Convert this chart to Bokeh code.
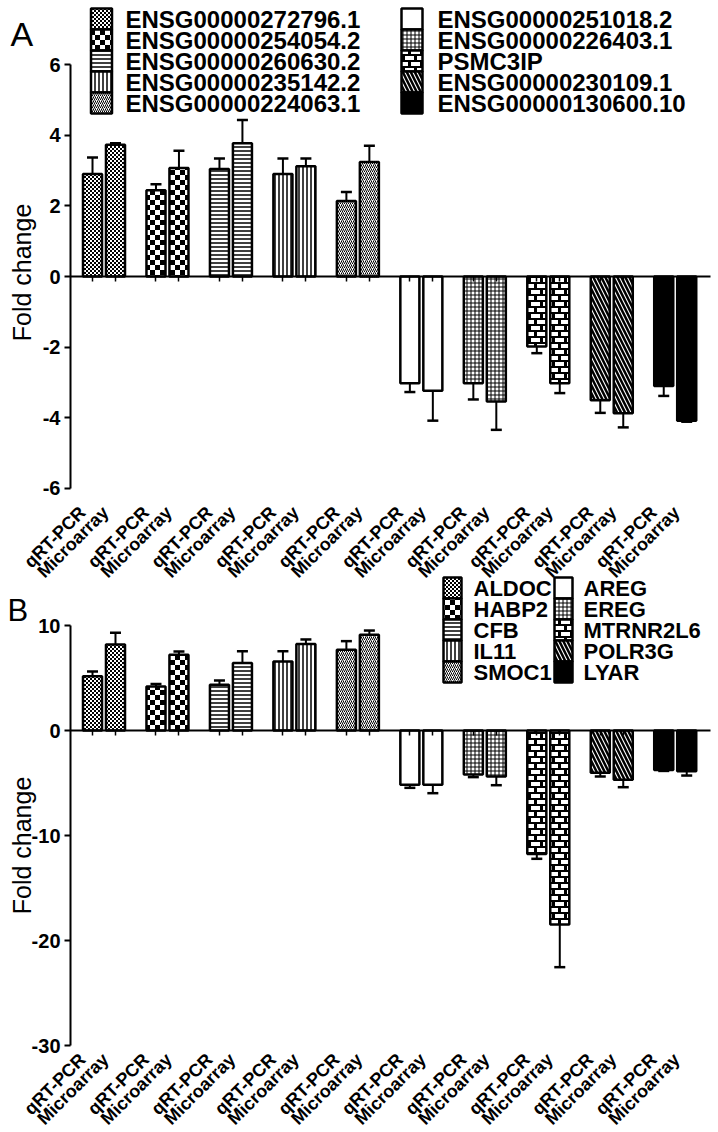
import zlib
import struct
import base64
import numpy as np
from math import pi
from bokeh.plotting import figure
from bokeh.models import Range1d, FixedTicker, LinearAxis, ImageURLTexture
from bokeh.core.properties import value
from bokeh.embed import file_html
from bokeh.resources import INLINE

# ---------------- data ----------------
tick_labels = ["qRT-PCR", "Microarray"]

genes_a = ["ENSG00000272796.1", "ENSG00000254054.2", "ENSG00000260630.2",
           "ENSG00000235142.2", "ENSG00000224063.1", "ENSG00000251018.2",
           "ENSG00000226403.1", "PSMC3IP", "ENSG00000230109.1", "ENSG00000130600.10"]
qpcr_a = [2.90, 2.44, 3.04, 2.90, 2.14, -3.02, -3.02, -1.98, -3.50, -3.10]
qpcr_a_err = [0.47, 0.17, 0.30, 0.44, 0.25, 0.25, 0.46, 0.19, 0.36, 0.28]
micro_a = [3.73, 3.07, 3.77, 3.12, 3.24, -3.23, -3.54, -3.02, -3.87, -4.08]
micro_a_err = [0.04, 0.49, 0.66, 0.22, 0.46, 0.85, 0.80, 0.28, 0.40, 0.03]

genes_b = ["ALDOC", "HABP2", "CFB", "IL11", "SMOC1",
           "AREG", "EREG", "MTRNR2L6", "POLR3G", "LYAR"]
qpcr_b = [5.17, 4.19, 4.35, 6.57, 7.68, -5.17, -4.19, -11.75, -4.03, -3.75]
qpcr_b_err = [0.45, 0.25, 0.41, 0.98, 0.83, 0.29, 0.25, 0.47, 0.35, 0.10]
micro_b = [8.19, 7.21, 6.44, 8.25, 9.11, -5.17, -4.38, -18.48, -4.70, -3.87]
micro_b_err = [1.11, 0.31, 1.11, 0.42, 0.41, 0.80, 0.83, 4.06, 0.70, 0.42]

yticks_a = [-6, -4, -2, 0, 2, 4, 6]
yticks_b = [-30, -20, -10, 0, 10]

# ---------------- styles ----------------
FONT = "Liberation Sans"
OFF = 0.181
BAR_W = 0.30
W, H = 718, 1132


def png_url(n, is_black):
    """Tiny grayscale PNG tile (n x n) as a data URL."""
    raw = b"".join(b"\x00" + bytes(0 if is_black(x, y) else 255 for x in range(n))
                   for y in range(n))

    def chunk(t, d):
        return (struct.pack(">I", len(d)) + t + d +
                struct.pack(">I", zlib.crc32(t + d) & 0xffffffff))

    png = (b"\x89PNG\r\n\x1a\n" +
           chunk(b"IHDR", struct.pack(">IIBBBBB", n, n, 8, 0, 0, 0, 0)) +
           chunk(b"IDAT", zlib.compress(raw)) + chunk(b"IEND", b""))
    return "data:image/png;base64," + base64.b64encode(png).decode()


def brick_px(x, y):
    row = (y // 6) % 2
    yy = y % 6
    if yy < 2:
        return True
    xx = (x + (6 if row else 0)) % 12
    return xx < 3


fine_checker = ImageURLTexture(url=png_url(4, lambda x, y: ((x // 2) + (y // 2)) % 2 == 0))
coarse_checker = ImageURLTexture(url=png_url(10, lambda x, y: ((x // 5) + (y // 5)) % 2 == 0))
bricks = ImageURLTexture(url=png_url(12, brick_px))

styles = [
    dict(fill_color="white", hatch_pattern=value("fchk"), hatch_extra={"fchk": fine_checker}),
    dict(fill_color="white", hatch_pattern=value("cchk"), hatch_extra={"cchk": coarse_checker}),
    dict(fill_color="white", hatch_pattern="horizontal_line", hatch_scale=4, hatch_weight=1.5),
    dict(fill_color="white", hatch_pattern="vertical_line", hatch_scale=4, hatch_weight=1.5),
    dict(fill_color="white", hatch_pattern="right_diagonal_line", hatch_scale=4, hatch_weight=1),
    dict(fill_color="white"),
    dict(fill_color="white", hatch_pattern="cross", hatch_scale=4, hatch_weight=1),
    dict(fill_color="white", hatch_pattern=value("brick"), hatch_extra={"brick": bricks}),
    dict(fill_color="white", hatch_pattern="left_diagonal_line", hatch_scale=8, hatch_weight=2.5),
    dict(fill_color="black"),
]

# page-pixel -> data helpers (layout only)
XC, XS = 103.5, 63.47


def xd(X):
    return (X - XC) / XS


def ymap(y0px, scale):
    return lambda Y: (y0px - Y) / scale


yA = ymap(276, 35.333)   # panel A: 0 at 276 px, 35.333 px per unit
yB = ymap(730, 10.5)     # panel B: 0 at 730 px, 10.5 px per unit

p = figure(width=W, height=H, output_backend="svg", toolbar_location=None,
           x_range=Range1d(xd(0), xd(W)), y_range=Range1d(yA(H), yA(0)),
           x_axis_location=None, y_axis_location=None, min_border=0)
p.extra_y_ranges = {"b": Range1d(yB(H), yB(0))}
p.outline_line_color = None
p.xgrid.visible = False
p.ygrid.visible = False


def draw_panel(rn, yd, genes, qpcr, qerr, micro, merr, yticks, letter, letter_px,
               letter_size, ylabel_px, leg_font, leg_cols, leg_rows_top, leg_rect_w,
               label_standoff):
    xs, vals, errs = [], [], []
    for i in range(len(genes)):
        bx = [float(i - OFF), float(i + OFF)]
        bv = [qpcr[i], micro[i]]
        p.vbar(x=bx, top=bv, bottom=0, width=BAR_W, line_color="black",
               line_width=2.5, y_range_name=rn, **styles[i])
        xs += bx
        vals += bv
        errs += [qerr[i], merr[i]]

    xs = np.array(xs)
    vals = np.array(vals)
    ends = vals + np.sign(vals) * np.array(errs)

    p.segment(x0=xs, y0=vals, x1=xs, y1=ends, line_color="black", line_width=2,
              y_range_name=rn)
    p.scatter(x=xs, y=ends, marker="dash", size=11, line_color="black", line_width=2.5,
              y_range_name=rn)

    # y axis
    yax = LinearAxis(y_range_name=rn, fixed_location=xd(70), ticker=FixedTicker(ticks=yticks),
                     bounds=(yticks[0], yticks[-1]), axis_line_width=2,
                     major_tick_line_width=2, major_tick_out=6, major_tick_in=0,
                     minor_tick_line_color=None, major_label_text_font=FONT,
                     major_label_text_font_style="bold", major_label_text_font_size="20px",
                     major_label_text_color="black", major_label_standoff=4,
                     major_label_overrides={t: str(t) for t in yticks})
    p.add_layout(yax, "left")

    # zero line with small ticks under each bar
    zax = LinearAxis(y_range_name=rn, fixed_location=0,
                     ticker=FixedTicker(ticks=[float(v) for v in xs]),
                     bounds=(xd(70), xd(710)), axis_line_width=2,
                     major_tick_line_width=1.5, major_tick_out=5, major_tick_in=0,
                     minor_tick_line_color=None, major_label_text_color=None,
                     major_label_text_font_size="1px")
    p.add_layout(zax, "below")

    # category labels below the axis
    lt = [float(v - 10 / XS) for v in xs]
    lax = LinearAxis(y_range_name=rn, fixed_location=yticks[0],
                     ticker=FixedTicker(ticks=lt),
                     major_label_overrides={v: tick_labels[k % 2] for k, v in enumerate(lt)},
                     axis_line_color=None, major_tick_line_color=None,
                     minor_tick_line_color=None, major_label_orientation=pi / 4,
                     major_label_text_font=FONT, major_label_text_font_style="bold",
                     major_label_text_font_size="18px", major_label_text_color="black",
                     major_label_standoff=label_standoff)
    p.add_layout(lax, "below")

    # axis title and panel letter
    p.text(x=[xd(21)], y=[yd(ylabel_px)], text=["Fold change"], angle=pi / 2,
           text_align="center", text_baseline="middle", text_color="black",
           text_font=value(FONT), text_font_size=value("25px"), y_range_name=rn)
    p.text(x=[xd(letter_px[0])], y=[yd(letter_px[1])], text=[letter],
           text_align="left", text_baseline="alphabetic", text_color="black",
           text_font=value(FONT), text_font_size=value(letter_size), y_range_name=rn)

    # legend: two columns of stacked pattern swatches
    for half in range(2):
        rect_x, text_x = leg_cols[half]
        rows = [leg_rows_top + 10.5 + 21 * r for r in range(5)]
        for r in range(5):
            k = half * 5 + r
            p.rect(x=[xd(rect_x)], y=[yd(rows[r])], width=leg_rect_w, height=21,
                   width_units="screen", height_units="screen",
                   line_color="black", line_width=2.5, y_range_name=rn, **styles[k])
        p.text(x=[xd(text_x)] * 5, y=[yd(v) for v in rows],
               text=genes[half * 5: half * 5 + 5], text_align="left",
               text_baseline="middle", text_color="black", text_font=value(FONT),
               text_font_style="bold", text_font_size=value(leg_font), y_range_name=rn)


draw_panel("default", yA, genes_a, qpcr_a, qpcr_a_err, micro_a, micro_a_err, yticks_a,
           letter="A", letter_px=(10, 33), letter_size="34px", ylabel_px=272,
           leg_font="24px", leg_cols=[(101, 125), (411.5, 437)], leg_rows_top=8,
           leg_rect_w=21, label_standoff=15)
draw_panel("b", yB, genes_b, qpcr_b, qpcr_b_err, micro_b, micro_b_err, yticks_b,
           letter="B", letter_px=(7, 610), letter_size="31px", ylabel_px=845,
           leg_font="22px", leg_cols=[(452, 473), (563, 583)], leg_rows_top=577,
           leg_rect_w=18, label_standoff=5)

open("out.html", "w").write(file_html(p, INLINE))
